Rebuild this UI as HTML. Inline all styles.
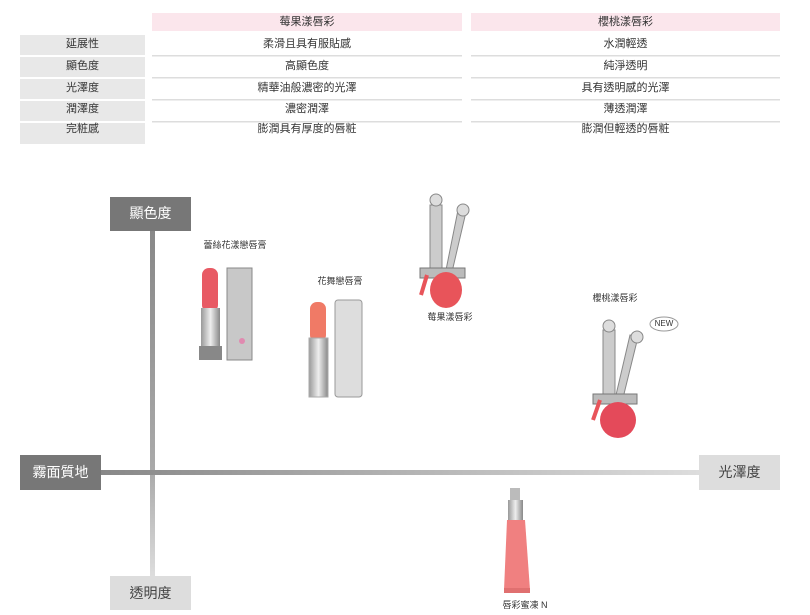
<!DOCTYPE html>
<html><head><meta charset="utf-8"><style>
body{margin:0;background:#fff;font-family:"Liberation Sans","Noto Sans CJK TC",sans-serif;}
.c{position:absolute;font-size:11px;color:#333;text-align:center;line-height:18px;}
</style></head><body>
<div style="position:relative;width:810px;height:615px;overflow:hidden">
<svg width="810" height="615" style="position:absolute;left:0;top:0">
<defs>
<linearGradient id="v" x1="0" y1="0" x2="0" y2="1"><stop offset="0" stop-color="#888"/><stop offset="0.7" stop-color="#aaa"/><stop offset="1" stop-color="#ddd"/></linearGradient>
<linearGradient id="h" x1="0" y1="0" x2="1" y2="0"><stop offset="0" stop-color="#888"/><stop offset="1" stop-color="#ddd"/></linearGradient>
<linearGradient id="m" x1="0" y1="0" x2="1" y2="0"><stop offset="0" stop-color="#999"/><stop offset="0.5" stop-color="#eee"/><stop offset="1" stop-color="#888"/></linearGradient>
</defs>
<!-- table -->
<rect x="152" y="13" width="310" height="18" fill="#fbe6ec"/>
<rect x="471" y="13" width="309" height="18" fill="#fbe6ec"/>
<rect x="20" y="35" width="125" height="20" fill="#e8e8e8"/>
<rect x="20" y="57" width="125" height="20" fill="#e8e8e8"/>
<rect x="20" y="79" width="125" height="20" fill="#e8e8e8"/>
<rect x="20" y="101" width="125" height="20" fill="#e8e8e8"/>
<rect x="20" y="123" width="125" height="21" fill="#e8e8e8"/>
<g fill="#ddd">
<rect x="152" y="55" width="310" height="1.5"/><rect x="471" y="55" width="309" height="1.5"/>
<rect x="152" y="77" width="310" height="1.5"/><rect x="471" y="77" width="309" height="1.5"/>
<rect x="152" y="99" width="310" height="1.5"/><rect x="471" y="99" width="309" height="1.5"/>
<rect x="152" y="121" width="310" height="1.5"/><rect x="471" y="121" width="309" height="1.5"/>
</g>
<!-- axes -->
<rect x="150" y="230" width="5" height="346" fill="url(#v)"/>
<rect x="101" y="470" width="598" height="5" fill="url(#h)"/>
<rect x="110" y="197" width="81" height="34" fill="#777"/>
<rect x="110" y="576" width="81" height="34" fill="#ddd"/>
<rect x="20" y="455" width="81" height="35" fill="#777"/>
<rect x="699" y="455" width="81" height="35" fill="#ddd"/>
<!-- lipstick 1 -->
<rect x="202" y="268" width="16" height="44" rx="7" fill="#e85a64"/>
<rect x="201" y="308" width="19" height="42" fill="url(#m)"/>
<rect x="199" y="346" width="23" height="14" fill="#888"/>
<rect x="227" y="268" width="25" height="92" fill="#c8c8c8" stroke="#888"/>
<circle cx="242" cy="341" r="3" fill="#e08ab0"/>
<!-- lipstick 2 -->
<rect x="310" y="302" width="16" height="40" rx="7" fill="#f07a66"/>
<rect x="309" y="338" width="19" height="59" fill="url(#m)" stroke="#aaa"/>
<rect x="335" y="300" width="27" height="97" rx="3" fill="#ddd" stroke="#999"/>
<!-- gloss 1 -->
<rect x="430" y="205" width="12" height="70" fill="#ccc" stroke="#888"/>
<polygon points="446,270 458,210 466,212 452,272" fill="#ccc" stroke="#888"/>
<circle cx="436" cy="200" r="6" fill="#ddd" stroke="#888"/>
<circle cx="463" cy="210" r="6" fill="#ddd" stroke="#888"/>
<rect x="420" y="268" width="45" height="10" fill="#bbb" stroke="#777"/>
<ellipse cx="446" cy="290" rx="16" ry="18" fill="#e8545a"/>
<line x1="427" y1="275" x2="421" y2="295" stroke="#e8545a" stroke-width="4"/>
<!-- gloss 2 -->
<rect x="603" y="330" width="12" height="70" fill="#ccc" stroke="#888"/>
<polygon points="616,395 630,335 638,337 623,398" fill="#ccc" stroke="#888"/>
<circle cx="609" cy="326" r="6" fill="#ddd" stroke="#888"/>
<circle cx="637" cy="337" r="6" fill="#ddd" stroke="#888"/>
<rect x="593" y="394" width="44" height="10" fill="#bbb" stroke="#777"/>
<circle cx="618" cy="420" r="18" fill="#e44a5a"/>
<line x1="600" y1="400" x2="593" y2="420" stroke="#e8545a" stroke-width="4"/>
<ellipse cx="664" cy="324" rx="14" ry="7" fill="#fff" stroke="#999"/>
<!-- tube -->
<rect x="510" y="488" width="10" height="14" fill="#bbb"/>
<rect x="508" y="500" width="15" height="20" fill="url(#m)"/>
<polygon points="507,520 525,520 530,590 504,590" fill="#f08080"/>
<rect x="504" y="588" width="26" height="5" fill="#e07070"/>
</svg>
<div class="c" style="left:152px;top:13px;width:310px">莓果漾唇彩</div>
<div class="c" style="left:471px;top:13px;width:309px">櫻桃漾唇彩</div>
<div class="c" style="left:20px;top:35px;width:125px">延展性</div>
<div class="c" style="left:20px;top:57px;width:125px">顯色度</div>
<div class="c" style="left:20px;top:79px;width:125px">光澤度</div>
<div class="c" style="left:20px;top:100px;width:125px">潤澤度</div>
<div class="c" style="left:20px;top:120px;width:125px">完粧感</div>
<div class="c" style="left:152px;top:35px;width:310px">柔滑且具有服貼感</div>
<div class="c" style="left:152px;top:57px;width:310px">高顯色度</div>
<div class="c" style="left:152px;top:79px;width:310px">精華油般濃密的光澤</div>
<div class="c" style="left:152px;top:100px;width:310px">濃密潤澤</div>
<div class="c" style="left:152px;top:120px;width:310px">膨潤具有厚度的唇粧</div>
<div class="c" style="left:471px;top:35px;width:309px">水潤輕透</div>
<div class="c" style="left:471px;top:57px;width:309px">純淨透明</div>
<div class="c" style="left:471px;top:79px;width:309px">具有透明感的光澤</div>
<div class="c" style="left:471px;top:100px;width:309px">薄透潤澤</div>
<div class="c" style="left:471px;top:120px;width:309px">膨潤但輕透的唇粧</div>
<div class="c" style="left:110px;top:197px;width:81px;line-height:32px;font-size:14px;color:#fff">顯色度</div>
<div class="c" style="left:110px;top:577px;width:81px;line-height:32px;font-size:14px;color:#444">透明度</div>
<div class="c" style="left:20px;top:456px;width:81px;line-height:32px;font-size:14px;color:#fff">霧面質地</div>
<div class="c" style="left:699px;top:456px;width:81px;line-height:32px;font-size:14px;color:#444">光澤度</div>
<div class="c" style="left:190px;top:236px;width:90px;font-size:9px">蕾絲花漾戀唇膏</div>
<div class="c" style="left:295px;top:272px;width:90px;font-size:9px">花舞戀唇膏</div>
<div class="c" style="left:405px;top:308px;width:90px;font-size:9px">莓果漾唇彩</div>
<div class="c" style="left:570px;top:289px;width:90px;font-size:9px">櫻桃漾唇彩</div>
<div class="c" style="left:650px;top:316px;width:28px;font-size:8px;line-height:16px">NEW</div>
<div class="c" style="left:480px;top:596px;width:90px;font-size:9px">唇彩蜜凍 N</div>
</div>
</body></html>
